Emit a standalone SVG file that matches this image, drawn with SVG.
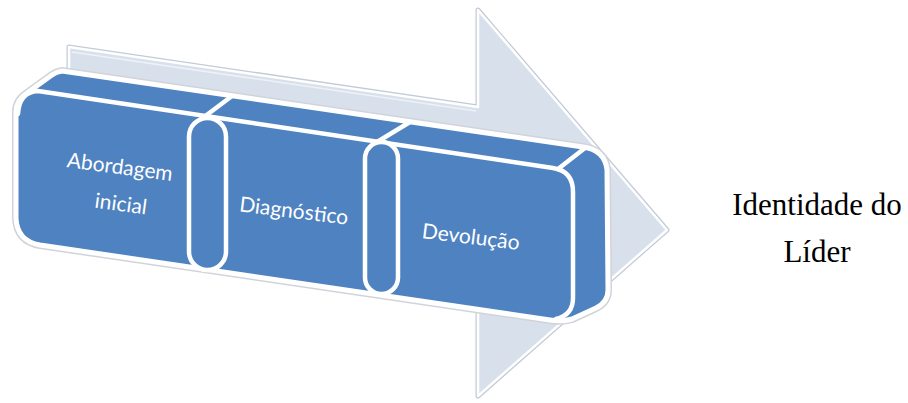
<svg xmlns="http://www.w3.org/2000/svg" width="908" height="403" viewBox="0 0 908 403">
<style>
.halo{fill:none;stroke:#c3cbd6;stroke-width:5;stroke-linejoin:round}
.arrow{fill:#d8e0ec;stroke:#ffffff;stroke-width:2.5;stroke-linejoin:round}
.blockhalo{fill:none;stroke:#d0d4da;stroke-width:8;stroke-linejoin:round}
.block{fill:#4f82c0;stroke:#ffffff;stroke-width:5;stroke-linejoin:round}
.edge{fill:none;stroke:#ffffff;stroke-width:4.5;stroke-linecap:round;stroke-linejoin:round}
.pill{fill:#4f82c0;stroke:#ffffff;stroke-width:4.5}
.lbl{font-family:Lato,"Open Sans",sans-serif;font-size:21px;fill:#ffffff;text-anchor:middle}
.side{font-family:"Liberation Serif","Times New Roman",serif;font-size:31px;fill:#000000;text-anchor:middle}
</style>
<g id="arrow">
<path class="halo" d="M69 47 L478 107 L478 10 L667 230 L478 396 L478 310 L69 240 Z"/>
<path class="arrow" d="M69 47 L478 107 L478 10 L667 230 L478 396 L478 310 L69 240 Z"/>
<path d="M72 52 L476 111" fill="none" stroke="#eef2f7" stroke-width="1.5"/>
</g>
<g id="block">
<path class="blockhalo" d="M62 71 L583 147 Q605 150 607 170 L608 290 Q608 302 596 308 L572 319 Q562 322 550 320 L40 245 Q17 241 16 218 L16 112 Q16 100 27 93 L52 75 Q56 72 62 71 Z"/>
<path class="block" d="M62 71 L583 147 Q605 150 607 170 L608 290 Q608 302 596 308 L572 319 Q562 322 550 320 L40 245 Q17 241 16 218 L16 112 Q16 100 27 93 L52 75 Q56 72 62 71 Z"/>
</g>
<g id="connectors">
<path class="edge" d="M18 114 Q19 92 38 91 L553 168 Q573 171 573 192 L573 298 Q573 315 556 319"/>
<path class="edge" d="M204 117 L232 96"/>
<path class="edge" d="M377 142 L410 122"/>
<path class="edge" d="M558 169 L585 148"/>
</g>
<g id="node-sep1">
<rect class="pill" x="189" y="118" width="37" height="152" rx="18.5"/>
</g>
<g id="node-sep2">
<rect class="pill" x="365" y="142" width="33" height="152" rx="16.5"/>
</g>
<g id="node-abordagem">
<text class="lbl" transform="translate(119 174) rotate(7.5)">Abordagem</text>
<text class="lbl" transform="translate(120 211) rotate(7.5)">inicial</text>
</g>
<g id="node-diagnostico">
<text class="lbl" transform="translate(293 218) rotate(7)">Diagnóstico</text>
</g>
<g id="node-devolucao">
<text class="lbl" transform="translate(470 244) rotate(7)">Devolução</text>
</g>
<g id="node-identidade">
<text class="side" x="817" y="215">Identidade do</text>
<text class="side" x="817" y="262">Líder</text>
</g>
</svg>
